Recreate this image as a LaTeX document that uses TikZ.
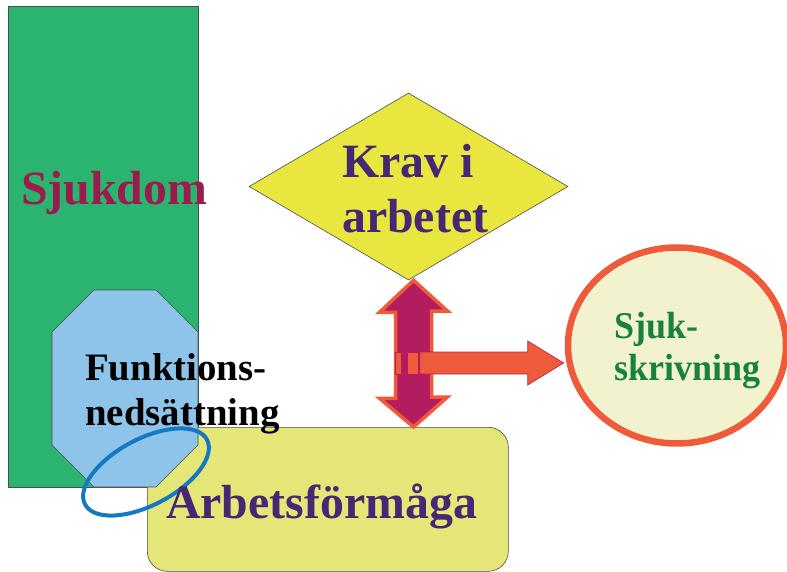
\documentclass[tikz,border=0pt]{standalone}
\usepackage{fontspec}
\setmainfont{Liberation Serif}
\newfontfamily\narrowserif[FakeStretch=0.95]{Liberation Serif}
\usetikzlibrary{shapes.geometric}

\definecolor{sickgreen}{HTML}{2BB470}
\definecolor{sickred}{HTML}{9C1B4E}
\definecolor{demandyellow}{HTML}{E8E63F}
\definecolor{workyellow}{HTML}{E5E678}
\definecolor{funcblue}{HTML}{8EC4EA}
\definecolor{ringblue}{HTML}{1479C2}
\definecolor{textpurple}{HTML}{452873}
\definecolor{arrowmaroon}{HTML}{B31D60}
\definecolor{arroworange}{HTML}{EE5A3A}
\definecolor{leavecream}{HTML}{F2F2CF}
\definecolor{leavegreen}{HTML}{17813F}

\begin{document}
\begin{tikzpicture}[x=1bp,y=-1bp,
    box/.style={draw=black!70, line width=0.6bp, inner sep=0pt},
    txt/.style={font=\bfseries, inner sep=0pt}]

    \useasboundingbox (0,0) rectangle (787,572);

    % Sjukdom: the tall green block
    \node[box, fill=sickgreen, anchor=north west, minimum width=190bp, minimum height=481bp] (sjukdom) at (8,6) {};

    % Arbetsformaga: rounded box at the bottom
    \node[box, fill=workyellow, rounded corners=20bp, anchor=north west, minimum width=361bp, minimum height=144bp] (arbete) at (147,427) {};

    % Funktionsnedsattning: the octagon
    \draw[box, fill=funcblue] (94,290) -- (156,290) -- (198,332) -- (198,445)
        -- (156,487) -- (94,487) -- (52,445) -- (52,332) -- cycle;

    % Krav i arbetet: the diamond
    \node[box, diamond, fill=demandyellow, minimum width=319bp, minimum height=187bp] (krav) at (408.5,186.5) {};

    % Double arrow between the demands and the work ability
    \coordinate (up) at ([xshift=5bp]krav.south);
    \coordinate (down) at (up |- arbete.north);
    \draw[line width=3.5bp, draw=arroworange, fill=arrowmaroon]
        (up) -- ++(-34,32) -- ++(16,0) -- ++(0,86) -- ++(-16,0) -- (down)
        -- ++(34,-30) -- ++(-16,0) -- ++(0,-86) -- ++(16,0) -- cycle;

    % Sjukskrivning: the ellipse
    \node[ellipse, draw=arroworange, line width=6.5bp, fill=leavecream, minimum width=218bp, minimum height=196bp] (sjukskr) at (677,345.5) {};

    % Striped arrow towards the sick leave
    \coordinate (tip) at ([xshift=-1bp]sjukskr.west |- 0,363);
    \draw[line width=0.6bp, draw=arrowmaroon, fill=arroworange]
        (tip) -- ++(-36,-22) -- ++(0,11) -- ++(-108,0) -- ++(0,22) -- ++(108,0) -- ++(0,11) -- cycle;
    \foreach \a/\b in {395/401, 407/418} {
        \draw[line width=0.6bp, draw=arrowmaroon, fill=arroworange] (\a,352) rectangle (\b,374);
    }

    % Blue ring round the overlap
    \draw[ringblue, line width=4bp, rotate around={28:(146,472)}] (146,472) ellipse [x radius=69bp, y radius=33bp];

    % Labels (base of a two-line label = its last line)
    \node[txt, text=sickred, font=\bfseries\fontsize{48}{56}\selectfont, anchor=base west] (sjukdomtext) at (21,205) {Sjukdom};
    \node[txt, text=textpurple, font=\bfseries\fontsize{48}{56}\selectfont, align=left, anchor=base west] (kravtext) at (342,233) {Krav i\\arbetet};
    \node[txt, font=\bfseries\fontsize{39}{45}\selectfont, align=left, anchor=base west] (funktext) at (85,425) {Funktions-\\nedsättning};
    \node[txt, text=textpurple, font=\bfseries\fontsize{48}{56}\selectfont, anchor=base west] (arbetetext) at (166,518) {Arbetsförmåga};
    \node[txt, text=leavegreen, font=\narrowserif\bfseries\fontsize{38}{42}\selectfont, align=left, anchor=base west] (sjukskrtext) at (614,380) {Sjuk-\\skrivning};

\end{tikzpicture}
\end{document}
